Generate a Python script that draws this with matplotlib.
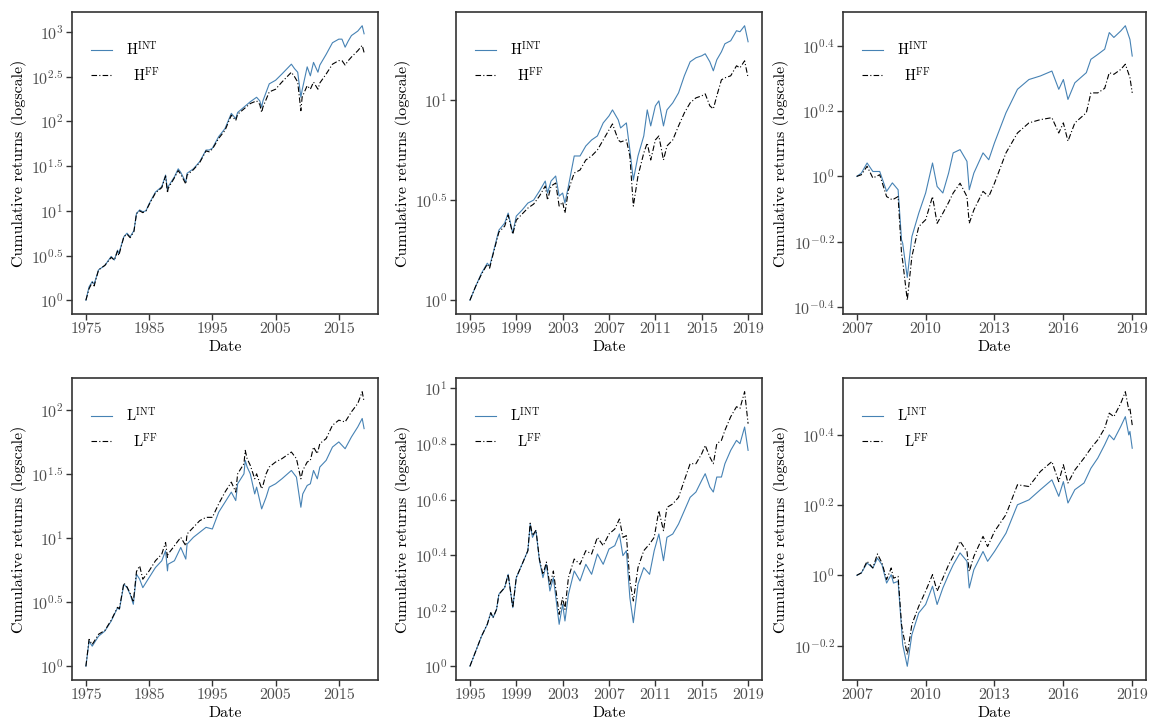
import numpy as np
import matplotlib
matplotlib.use("Agg")
import matplotlib.pyplot as plt
from matplotlib.ticker import FixedLocator, FixedFormatter, NullLocator

plt.rcParams['font.family'] = 'serif'
plt.rcParams['font.serif'] = ['cmr10']
plt.rcParams['mathtext.fontset'] = 'cm'
plt.rcParams['axes.formatter.use_mathtext'] = True
plt.rcParams['axes.unicode_minus'] = False

# ---------------- data (log10 of cumulative returns) ----------------
# Panel 1: H, 1975-2019
p1_years = [1975.0, 1975.5, 1976.0, 1976.3, 1977, 1978, 1979, 1979.5, 1980, 1980.2, 1981, 1981.5, 1982, 1982.6,
            1983, 1983.5, 1984, 1984.5, 1985, 1986, 1987, 1987.6, 1987.9, 1988, 1989, 1989.6, 1990, 1990.8, 1991,
            1992, 1993, 1994, 1994.5, 1995, 1996, 1997, 1998, 1998.7, 1999, 2000, 2001, 2002, 2002.5, 2002.8, 2003,
            2004, 2005, 2006, 2007.5, 2008, 2008.5, 2009.0, 2009.2, 2010, 2010.5, 2011, 2011.7, 2012, 2013, 2014,
            2015, 2015.5, 2016, 2016.5, 2017, 2018, 2018.7, 2019]
p1_int = [0, 0.15, 0.21, 0.18, 0.34, 0.39, 0.49, 0.45, 0.56, 0.52, 0.71, 0.75, 0.71, 0.78, 0.97, 1.01, 0.99, 1.0,
          1.08, 1.21, 1.27, 1.40, 1.23, 1.27, 1.38, 1.47, 1.43, 1.32, 1.42, 1.47, 1.55, 1.68, 1.68, 1.70, 1.83, 1.92,
          2.09, 2.03, 2.10, 2.16, 2.22, 2.27, 2.23, 2.16, 2.23, 2.42, 2.46, 2.53, 2.64, 2.59, 2.55, 2.27, 2.35, 2.61,
          2.51, 2.66, 2.55, 2.63, 2.75, 2.88, 2.92, 2.92, 2.83, 2.90, 2.96, 3.01, 3.07, 2.98]
p1_ff = [0, 0.13, 0.20, 0.16, 0.34, 0.39, 0.48, 0.45, 0.55, 0.50, 0.71, 0.74, 0.70, 0.77, 0.97, 1.00, 0.98, 1.0,
         1.07, 1.20, 1.26, 1.39, 1.20, 1.25, 1.37, 1.45, 1.41, 1.30, 1.40, 1.46, 1.54, 1.67, 1.66, 1.69, 1.81, 1.90,
         2.07, 2.01, 2.08, 2.14, 2.20, 2.23, 2.19, 2.10, 2.16, 2.33, 2.36, 2.44, 2.55, 2.50, 2.44, 2.12, 2.27, 2.40,
         2.36, 2.44, 2.36, 2.43, 2.53, 2.64, 2.68, 2.68, 2.63, 2.68, 2.72, 2.79, 2.85, 2.77]

# Panel 2: H, 1995-2019
p2_years = [1995.0, 1995.5, 1996, 1996.5, 1996.7, 1997, 1997.5, 1998, 1998.3, 1998.7, 1999, 1999.5, 2000, 2000.5,
            2001, 2001.5, 2001.7, 2002, 2002.4, 2002.7, 2003, 2003.2, 2003.5, 2004, 2004.5, 2005, 2005.5, 2006,
            2006.5, 2007, 2007.3, 2007.8, 2008, 2008.5, 2008.8, 2009.1, 2009.5, 2010, 2010.3, 2010.6, 2011, 2011.3,
            2011.7, 2012, 2012.5, 2013, 2013.5, 2014, 2014.5, 2015, 2015.3, 2015.7, 2016.0, 2016.3, 2016.7, 2017,
            2017.5, 2018, 2018.3, 2018.7, 2019]
p2_int = [0, 0.07, 0.135, 0.185, 0.17, 0.235, 0.35, 0.385, 0.435, 0.335, 0.42, 0.45, 0.485, 0.50, 0.545, 0.595,
          0.535, 0.595, 0.62, 0.52, 0.535, 0.485, 0.57, 0.72, 0.72, 0.77, 0.80, 0.82, 0.885, 0.92, 0.95, 0.90, 0.86,
          0.885, 0.75, 0.60, 0.72, 0.82, 0.95, 0.87, 0.97, 0.995, 0.87, 0.95, 0.985, 1.035, 1.12, 1.19, 1.21, 1.22,
          1.23, 1.19, 1.145, 1.20, 1.24, 1.28, 1.295, 1.345, 1.34, 1.37, 1.29]
p2_ff = [0, 0.07, 0.13, 0.18, 0.16, 0.23, 0.34, 0.37, 0.425, 0.33, 0.40, 0.43, 0.46, 0.48, 0.52, 0.57, 0.50, 0.57,
         0.585, 0.47, 0.49, 0.435, 0.55, 0.635, 0.65, 0.70, 0.72, 0.75, 0.80, 0.85, 0.88, 0.80, 0.79, 0.80, 0.72,
         0.47, 0.62, 0.735, 0.785, 0.70, 0.80, 0.82, 0.70, 0.77, 0.80, 0.87, 0.935, 0.985, 1.01, 1.02, 1.03, 0.97,
         0.955, 1.02, 1.10, 1.11, 1.12, 1.17, 1.16, 1.195, 1.11]

# Panel 3: H, 2007-2019
p3_years = [2007.0, 2007.2, 2007.45, 2007.7, 2008, 2008.3, 2008.55, 2008.8, 2008.95, 2009.0, 2009.2, 2009.4, 2009.7,
            2010, 2010.3, 2010.5, 2010.75, 2011, 2011.2, 2011.5, 2011.8, 2011.9, 2012.1, 2012.5, 2012.75, 2013,
            2013.5, 2014, 2014.5, 2015, 2015.5, 2015.8, 2016.0, 2016.2, 2016.5, 2017, 2017.2, 2017.5, 2017.8, 2018,
            2018.2, 2018.5, 2018.7, 2018.9, 2019]
p3_int = [0, 0.01, 0.041, 0.015, 0.015, -0.046, -0.02, -0.041, -0.195, -0.205, -0.31, -0.185, -0.113, -0.051,
          0.041, -0.031, -0.051, 0.01, 0.072, 0.082, 0.046, -0.041, 0.01, 0.072, 0.051, 0.103, 0.195, 0.267, 0.297,
          0.308, 0.323, 0.267, 0.297, 0.236, 0.287, 0.318, 0.359, 0.374, 0.39, 0.441, 0.426, 0.446, 0.462, 0.42,
          0.369]
p3_ff = [0, 0.005, 0.031, -0.005, 0.005, -0.062, -0.072, -0.062, -0.236, -0.26, -0.38, -0.246, -0.154, -0.133,
         -0.062, -0.144, -0.113, -0.08, -0.051, -0.021, -0.062, -0.144, -0.103, -0.046, -0.062, -0.021, 0.072,
         0.133, 0.164, 0.174, 0.18, 0.133, 0.164, 0.108, 0.164, 0.195, 0.256, 0.256, 0.27, 0.318, 0.313, 0.328,
         0.344, 0.303, 0.256]

# Panel 4: L, 1975-2019
p4_years = [1975, 1975.5, 1976, 1977, 1978, 1979, 1980, 1980.3, 1981, 1981.5, 1982, 1982.5, 1983, 1983.5, 1984,
            1985, 1986, 1987, 1987.6, 1987.9, 1988, 1989, 1990, 1990.8, 1991, 1992, 1993, 1994, 1995, 1996, 1997,
            1998, 1998.7, 1999, 2000, 2000.2, 2000.5, 2001, 2001.7, 2002, 2002.8, 2003, 2003.5, 2004, 2005, 2006,
            2007.5, 2008.3, 2009.0, 2009.3, 2010, 2010.5, 2011, 2011.6, 2012, 2013, 2014, 2015, 2016, 2017, 2018,
            2018.7, 2019]
p4_int = [0, 0.196, 0.157, 0.235, 0.275, 0.353, 0.457, 0.444, 0.64, 0.614, 0.562, 0.484, 0.719, 0.68, 0.614,
          0.693, 0.771, 0.824, 0.902, 0.745, 0.797, 0.824, 0.928, 0.837, 0.954, 1.007, 1.046, 1.085, 1.072, 1.203,
          1.281, 1.36, 1.294, 1.425, 1.503, 1.608, 1.556, 1.503, 1.346, 1.399, 1.229, 1.255, 1.32, 1.399, 1.425,
          1.464, 1.529, 1.477, 1.242, 1.346, 1.412, 1.425, 1.529, 1.464, 1.556, 1.608, 1.712, 1.752, 1.699, 1.791,
          1.869, 1.935, 1.856]
p4_ff = [0, 0.21, 0.17, 0.25, 0.28, 0.36, 0.46, 0.45, 0.65, 0.62, 0.57, 0.50, 0.74, 0.784, 0.68, 0.745, 0.824,
         0.876, 0.967, 0.85, 0.876, 0.941, 1.007, 0.941, 1.033, 1.085, 1.137, 1.163, 1.163, 1.268, 1.36, 1.438,
         1.36, 1.503, 1.582, 1.686, 1.621, 1.569, 1.464, 1.503, 1.386, 1.412, 1.503, 1.556, 1.595, 1.621, 1.673,
         1.621, 1.464, 1.529, 1.595, 1.608, 1.712, 1.66, 1.739, 1.778, 1.882, 1.922, 1.908, 1.987, 2.052, 2.144,
         2.065]

# Panel 5: L, 1995-2019
p5_years = [1995, 1995.5, 1996, 1996.5, 1996.8, 1997, 1997.3, 1997.5, 1998, 1998.3, 1998.7, 1999, 1999.5, 2000,
            2000.2, 2000.4, 2000.7, 2001, 2001.3, 2001.6, 2001.9, 2002.2, 2002.7, 2003, 2003.2, 2003.5, 2004,
            2004.5, 2005, 2005.5, 2006, 2006.5, 2007, 2007.5, 2007.9, 2008.2, 2008.5, 2008.8, 2009.1, 2009.5, 2010,
            2010.5, 2010.9, 2011.3, 2011.7, 2012, 2012.5, 2013, 2013.5, 2014, 2014.5, 2015, 2015.3, 2015.7, 2016.0,
            2016.3, 2016.7, 2017, 2017.5, 2018, 2018.3, 2018.7, 2019]
p5_int = [0, 0.054, 0.108, 0.151, 0.193, 0.175, 0.205, 0.259, 0.283, 0.331, 0.211, 0.319, 0.367, 0.416, 0.512,
          0.464, 0.488, 0.38, 0.319, 0.367, 0.271, 0.319, 0.151, 0.223, 0.163, 0.259, 0.343, 0.307, 0.367, 0.331,
          0.404, 0.367, 0.422, 0.434, 0.476, 0.398, 0.416, 0.247, 0.157, 0.295, 0.355, 0.331, 0.416, 0.476, 0.38,
          0.464, 0.476, 0.512, 0.56, 0.608, 0.627, 0.669, 0.693, 0.645, 0.627, 0.681, 0.681, 0.729, 0.777, 0.813,
          0.801, 0.861, 0.777]
p5_ff = [0, 0.054, 0.108, 0.151, 0.193, 0.175, 0.205, 0.259, 0.283, 0.331, 0.211, 0.319, 0.367, 0.416, 0.515,
         0.47, 0.49, 0.385, 0.33, 0.375, 0.29, 0.343, 0.187, 0.247, 0.205, 0.319, 0.386, 0.367, 0.416, 0.404,
         0.464, 0.434, 0.476, 0.494, 0.53, 0.464, 0.47, 0.307, 0.235, 0.355, 0.416, 0.44, 0.464, 0.56, 0.488,
         0.572, 0.584, 0.608, 0.669, 0.729, 0.729, 0.765, 0.795, 0.753, 0.729, 0.801, 0.813, 0.849, 0.898, 0.934,
         0.928, 0.988, 0.873]

# Panel 6: L, 2007-2019
p6_years = [2007, 2007.2, 2007.45, 2007.7, 2007.9, 2008.1, 2008.3, 2008.5, 2008.6, 2008.8, 2008.95, 2009.0, 2009.2,
            2009.4, 2009.7, 2010, 2010.3, 2010.5, 2010.75, 2011, 2011.2, 2011.5, 2011.8, 2011.9, 2012.1, 2012.5,
            2012.7, 2013, 2013.5, 2014, 2014.5, 2015, 2015.5, 2015.8, 2016.0, 2016.2, 2016.5, 2016.9, 2017.2,
            2017.5, 2017.8, 2018, 2018.2, 2018.5, 2018.7, 2018.85, 2018.9, 2019]
p6_int = [0, 0.007, 0.035, 0.021, 0.049, 0.03, -0.022, 0.002, -0.022, -0.017, -0.15, -0.197, -0.259, -0.169,
          -0.107, -0.083, -0.031, -0.083, -0.036, 0.002, 0.03, 0.064, 0.04, -0.036, 0.016, 0.068, 0.04, 0.068,
          0.12, 0.201, 0.215, 0.244, 0.272, 0.225, 0.267, 0.206, 0.244, 0.263, 0.305, 0.334, 0.372, 0.4, 0.386,
          0.424, 0.452, 0.4, 0.41, 0.362]
p6_ff = [0, 0.007, 0.04, 0.021, 0.061, 0.035, -0.012, 0.021, -0.008, -0.003, -0.14, -0.159, -0.226, -0.14,
         -0.088, -0.045, 0.002, -0.045, -0.008, 0.03, 0.054, 0.097, 0.068, 0.011, 0.054, 0.111, 0.082, 0.125,
         0.173, 0.258, 0.253, 0.296, 0.324, 0.267, 0.315, 0.263, 0.3, 0.334, 0.362, 0.386, 0.419, 0.462, 0.452,
         0.49, 0.523, 0.471, 0.476, 0.428]

# tick definitions
xticks_long = [1975, 1985, 1995, 2005, 2015]
xticks_mid = [1995, 1999, 2003, 2007, 2011, 2015, 2019]
xticks_short = [2007, 2010, 2013, 2016, 2019]
yexp = {
    1: [0, 0.5, 1, 1.5, 2, 2.5, 3],
    2: [0, 0.5, 1],
    3: [-0.4, -0.2, 0, 0.2, 0.4],
    4: [0, 0.5, 1, 1.5, 2],
    5: [0, 0.2, 0.4, 0.6, 0.8, 1],
    6: [-0.2, 0, 0.2, 0.4],
}

panels = [
    (1, p1_years, p1_int, p1_ff, 'H', xticks_long),
    (2, p2_years, p2_int, p2_ff, 'H', xticks_mid),
    (3, p3_years, p3_int, p3_ff, 'H', xticks_short),
    (4, p4_years, p4_int, p4_ff, 'L', xticks_long),
    (5, p5_years, p5_int, p5_ff, 'L', xticks_mid),
    (6, p6_years, p6_int, p6_ff, 'L', xticks_short),
]

W, H = 1150, 723
fig = plt.figure(figsize=(W / 100, H / 100), dpi=100)
col_lr = [(72, 378), (456, 762), (843, 1146)]
row_tb = [(12, 314), (378, 680)]

blue = '#4682B4'
tick_col = '#4D4D4D'

for idx, (pid, yrs, vint, vff, letter, xt) in enumerate(panels):
    r, c = divmod(idx, 3)
    l, rr = col_lr[c]
    t, b = row_tb[r]
    ax = fig.add_axes([l / W, 1 - b / H, (rr - l) / W, (b - t) / H])
    yrs = np.asarray(yrs)
    ax.plot(yrs, 10 ** np.asarray(vint), color=blue, lw=0.8, label=r'$\mathrm{%s}^{\mathrm{INT}}$' % letter)
    ax.plot(yrs, 10 ** np.asarray(vff), color='black', lw=0.8, linestyle=(0, (5, 2, 1, 2)),
            label=r'$\;\;\mathrm{%s}^{\mathrm{FF}}$' % letter)
    ax.set_yscale('log')
    ax.margins(x=0.05, y=0.05)
    ax.set_xticks(xt)
    ax.set_xticklabels([str(v) for v in xt])
    ex = yexp[pid]
    ax.yaxis.set_major_locator(FixedLocator([10 ** e for e in ex]))
    ax.yaxis.set_major_formatter(FixedFormatter([r'$10^{%g}$' % e for e in ex]))
    ax.yaxis.set_minor_locator(NullLocator())
    ax.tick_params(axis='both', which='major', labelsize=11.5, labelcolor=tick_col, color='#333333',
                   length=4, width=1.0, direction='out', pad=2)
    for sp in ax.spines.values():
        sp.set_linewidth(1.2)
        sp.set_color('#333333')
    ax.set_xlabel('Date', fontsize=11.5, labelpad=3)
    ax.set_ylabel('Cumulative returns (logscale)', fontsize=11.5, labelpad=3)
    ax.legend(loc='upper left', bbox_to_anchor=(0.02, 0.95), frameon=False, fontsize=10.5,
              handlelength=1.4, handletextpad=1.0, labelspacing=0.5)

fig.savefig('out.png', dpi=100)
